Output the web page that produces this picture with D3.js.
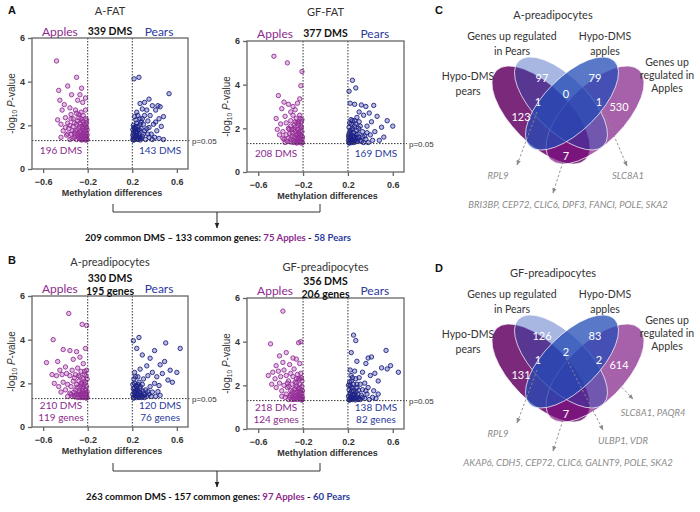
<!DOCTYPE html>
<html>
<head>
<meta charset="utf-8">
<script src="https://cdn.jsdelivr.net/npm/d3@7"></script>
<style>
  body { margin: 0; background: #fff; }
  svg { display: block; }
</style>
</head>
<body>
<svg id="fig" width="700" height="512"></svg>
<script>
// ---- data ----
const xTicks = [-0.6, -0.2, 0.2, 0.6];
const yTicks = [0, 2, 4, 6];
const foldCut = 0.2;
const pCut = -Math.log10(0.05);

const aFatApples = [[-0.48,4.95],[-0.30,4.2],[-0.255,3.7],[-0.38,3.8],[-0.46,3.6],[-0.45,3.15],[-0.345,3.4],[-0.29,3.15],[-0.41,2.95],[-0.245,3.05],[-0.36,2.8],[-0.31,2.7],[-0.43,2.7],[-0.27,3.4],[-0.22,3.25],
  [-0.47,2.25],[-0.44,2.05],[-0.40,2.35],[-0.38,2.1],[-0.35,2.5],[-0.33,2.3],[-0.30,2.55],[-0.28,2.35],[-0.26,2.6],[-0.24,2.45],[-0.22,2.7],[-0.21,2.25],[-0.42,1.75],[-0.39,1.55],[-0.37,1.85],[-0.35,1.6],[-0.33,1.95],[-0.32,1.45],[-0.31,1.75],[-0.30,2.05],[-0.29,1.55],[-0.28,1.85],[-0.27,1.4],[-0.27,2.1],[-0.26,1.65],[-0.25,1.95],[-0.25,1.45],[-0.24,1.75],[-0.24,2.15],[-0.23,1.35],[-0.23,1.6],[-0.23,1.9],[-0.22,1.5],[-0.22,1.75],[-0.22,2.0],[-0.21,1.4],[-0.21,1.65],[-0.21,1.9],[-0.205,1.35],[-0.205,1.55],[-0.205,1.8],[-0.26,1.35],[-0.28,1.6],[-0.30,1.35],[-0.34,1.4],[-0.36,1.35],[-0.32,1.65],[-0.26,2.3],[-0.29,2.2],[-0.36,2.0],[-0.40,1.9],[-0.25,1.55],[-0.27,1.7],[-0.235,1.45],[-0.215,1.5],[-0.245,1.35],
  [-0.215,1.32],[-0.225,1.42],[-0.235,1.68],[-0.245,1.88],[-0.255,1.33],[-0.265,1.52],[-0.275,1.95],[-0.285,1.45],[-0.295,1.8],[-0.31,1.55],[-0.32,2.1],[-0.34,1.75],[-0.38,1.6],[-0.21,2.1],[-0.22,2.3],[-0.23,2.05],[-0.25,2.2],[-0.28,2.5],[-0.44,1.45],[-0.35,2.3]];
const aFatPears = [[0.216,4.13],[0.26,4.2],[0.53,3.45],[0.27,3.0],[0.31,3.05],[0.35,3.2],[0.41,2.7],[0.43,2.9],[0.48,2.4],[0.45,2.85],[0.41,2.15],[0.38,2.9],[0.33,2.7],[0.29,2.75],[0.24,2.6],[0.36,2.45],[0.44,2.3],[0.39,2.05],[0.46,1.95],[0.34,2.2],[0.31,2.45],[0.27,2.3],[0.22,2.4],[0.42,1.75],[0.37,1.6],[0.40,1.45],[0.44,1.4],[0.33,1.85],[0.35,1.45],[0.30,2.05],[0.30,1.6],[0.28,1.85],[0.28,1.4],[0.27,2.05],[0.26,1.6],[0.25,1.35],[0.25,1.8],[0.24,2.1],[0.24,1.5],[0.23,1.7],[0.23,1.95],[0.22,1.35],[0.22,1.55],[0.22,1.85],[0.21,1.45],[0.21,1.65],[0.21,2.0],[0.205,1.35],[0.205,1.55],[0.205,1.8],[0.26,1.45],[0.29,1.5],[0.32,1.35],[0.31,1.75],[0.48,1.35],
  [0.212,1.32],[0.218,1.75],[0.225,1.45],[0.232,2.25],[0.238,1.62],[0.245,1.38],[0.252,1.95],[0.258,1.52],[0.265,1.78],[0.272,1.33],[0.28,2.15],[0.215,1.9],[0.228,1.85],[0.242,1.72],[0.268,1.42],[0.35,1.9],[0.38,1.35],[0.25,2.45],[0.29,2.3],[0.34,1.6]];
const gfFatApples = [[-0.46,5.3],[-0.34,5.0],[-0.21,4.6],[-0.22,3.95],[-0.42,3.5],[-0.37,3.2],[-0.33,3.1],[-0.29,3.0],[-0.25,3.15],[-0.23,3.35],[-0.39,2.9],[-0.31,2.75],[-0.27,2.85],[-0.44,2.45],[-0.40,2.2],[-0.36,2.55],[-0.35,2.25],[-0.33,2.0],[-0.31,2.35],[-0.29,2.6],[-0.28,2.15],[-0.26,2.45],[-0.25,1.95],[-0.24,2.3],[-0.23,2.6],[-0.22,2.1],[-0.21,2.4],[-0.43,1.95],[-0.41,1.7],[-0.38,1.85],[-0.37,1.5],[-0.35,1.7],[-0.34,1.4],[-0.32,1.75],[-0.31,1.5],[-0.30,1.95],[-0.29,1.35],[-0.28,1.6],[-0.27,1.85],[-0.27,1.4],[-0.26,1.7],[-0.25,1.5],[-0.24,1.35],[-0.24,1.8],[-0.23,1.55],[-0.23,2.0],[-0.22,1.4],[-0.22,1.7],[-0.21,1.5],[-0.21,1.85],[-0.205,1.35],[-0.205,1.6],[-0.215,2.05],[-0.26,1.35],[-0.30,1.65],[-0.33,1.55],[-0.36,1.35],[-0.245,1.6],[-0.235,1.75],[-0.28,1.95],
  [-0.212,1.32],[-0.218,1.62],[-0.225,1.88],[-0.232,1.42],[-0.238,2.2],[-0.245,1.45],[-0.252,1.72],[-0.258,1.33],[-0.265,1.55],[-0.272,2.05],[-0.285,1.45],[-0.295,1.8],[-0.315,1.38],[-0.325,1.95],[-0.215,2.3],[-0.228,2.45],[-0.255,2.25],[-0.31,2.1],[-0.38,1.55],[-0.27,2.3]];
const gfFatPears = [[0.24,4.2],[0.21,3.7],[0.27,3.85],[0.22,3.15],[0.26,3.1],[0.32,3.07],[0.36,3.0],[0.43,3.05],[0.30,2.75],[0.34,2.6],[0.39,2.7],[0.46,2.55],[0.55,2.35],[0.60,2.1],[0.50,2.05],[0.41,2.3],[0.37,2.1],[0.28,2.5],[0.24,2.35],[0.44,1.85],[0.52,1.6],[0.48,1.45],[0.40,1.7],[0.36,1.5],[0.33,1.85],[0.31,2.1],[0.30,1.6],[0.28,1.4],[0.28,1.9],[0.27,2.2],[0.26,1.6],[0.25,1.8],[0.25,1.35],[0.24,2.0],[0.24,1.5],[0.23,1.7],[0.23,2.2],[0.22,1.4],[0.22,1.6],[0.22,1.9],[0.21,1.35],[0.21,1.55],[0.21,1.75],[0.21,2.05],[0.205,1.45],[0.205,1.65],[0.26,1.45],[0.29,1.75],[0.32,1.4],[0.35,1.65],[0.23,1.45],[0.27,1.55],[0.24,1.65],[0.38,1.35],[0.42,1.45],
  [0.212,1.32],[0.218,1.82],[0.225,1.52],[0.232,1.35],[0.238,1.92],[0.245,1.42],[0.252,1.62],[0.258,2.1],[0.265,1.38],[0.272,1.72],[0.285,1.55],[0.295,2.0],[0.31,1.45],[0.33,1.62],[0.215,2.25],[0.228,2.4],[0.34,1.35],[0.37,1.8],[0.30,2.3],[0.26,2.35]];
const aPreApples = [[-0.37,5.2],[-0.25,4.7],[-0.21,4.65],[-0.51,4.0],[-0.42,3.55],[-0.36,3.5],[-0.30,3.45],[-0.22,3.6],[-0.57,2.95],[-0.24,2.9],[-0.47,3.0],[-0.33,3.1],[-0.27,3.2],[-0.40,2.75],[-0.52,2.4],[-0.48,2.35],[-0.45,2.6],[-0.43,2.4],[-0.39,2.45],[-0.36,2.35],[-0.34,2.6],[-0.31,2.4],[-0.29,2.7],[-0.28,2.35],[-0.26,2.55],[-0.23,2.4],[-0.21,2.6],[-0.50,2.0],[-0.46,1.85],[-0.42,2.05],[-0.40,1.7],[-0.38,1.95],[-0.36,1.55],[-0.35,1.85],[-0.33,2.1],[-0.32,1.45],[-0.31,1.7],[-0.30,1.95],[-0.29,1.35],[-0.28,1.6],[-0.28,2.1],[-0.27,1.85],[-0.26,1.45],[-0.26,2.0],[-0.25,1.65],[-0.24,1.4],[-0.24,1.85],[-0.24,2.2],[-0.23,1.55],[-0.23,1.95],[-0.22,1.35],[-0.22,1.7],[-0.22,2.05],[-0.21,1.45],[-0.21,1.85],[-0.205,1.35],[-0.205,1.6],[-0.205,2.2],[-0.25,1.35],[-0.30,1.5],[-0.34,1.4],[-0.38,1.4],[-0.27,1.5],[-0.245,1.55],[-0.215,1.55],
  [-0.212,1.32],[-0.218,1.72],[-0.225,1.48],[-0.232,2.1],[-0.238,1.35],[-0.245,1.75],[-0.252,1.5],[-0.258,1.92],[-0.265,1.35],[-0.272,1.65],[-0.285,1.48],[-0.295,1.82],[-0.315,1.38],[-0.325,1.6],[-0.215,2.35],[-0.228,2.55],[-0.27,2.3],[-0.35,1.5],[-0.44,1.6],[-0.32,2.25]];
const aPrePears = [[0.21,3.95],[0.26,4.1],[0.24,3.6],[0.50,3.85],[0.63,3.6],[0.40,3.5],[0.29,3.3],[0.36,3.15],[0.49,3.0],[0.60,2.5],[0.54,2.6],[0.45,2.85],[0.33,2.8],[0.27,2.65],[0.38,2.5],[0.42,2.3],[0.47,2.45],[0.52,2.15],[0.56,2.05],[0.22,2.5],[0.25,2.3],[0.30,2.2],[0.34,2.35],[0.40,2.0],[0.44,1.9],[0.36,1.85],[0.32,1.7],[0.29,1.95],[0.27,1.75],[0.26,2.05],[0.25,1.5],[0.24,1.85],[0.23,1.4],[0.23,1.65],[0.22,2.0],[0.22,1.55],[0.21,1.35],[0.21,1.75],[0.205,1.5],[0.205,1.95],[0.28,1.45],[0.30,1.55],[0.33,1.4],[0.35,1.5],[0.38,1.6],[0.41,1.4],[0.45,1.45],[0.26,1.35],[0.24,1.6],[0.22,1.8],[0.31,1.35],[0.27,1.55],
  [0.212,1.32],[0.218,1.62],[0.225,1.42],[0.232,1.9],[0.238,1.35],[0.245,1.72],[0.252,1.45],[0.258,1.62],[0.265,1.38],[0.272,1.85],[0.285,1.35],[0.295,1.65],[0.31,1.48],[0.215,2.2],[0.228,2.3],[0.29,1.4],[0.34,1.62],[0.25,1.95],[0.37,1.4],[0.43,1.62]];
const gfPreApples = [[-0.38,5.4],[-0.49,3.9],[-0.24,3.95],[-0.22,4.0],[-0.41,3.35],[-0.35,3.5],[-0.29,3.25],[-0.26,3.2],[-0.38,3.05],[-0.44,2.9],[-0.32,2.95],[-0.23,3.0],[-0.51,2.45],[-0.47,2.6],[-0.45,2.3],[-0.42,2.65],[-0.40,2.4],[-0.37,2.7],[-0.35,2.45],[-0.33,2.2],[-0.31,2.55],[-0.29,2.4],[-0.28,2.75],[-0.27,2.15],[-0.25,2.5],[-0.24,2.3],[-0.22,2.55],[-0.21,2.2],[-0.48,2.05],[-0.44,1.9],[-0.41,2.1],[-0.39,1.75],[-0.37,2.0],[-0.35,1.6],[-0.34,1.9],[-0.32,1.45],[-0.31,1.75],[-0.30,2.05],[-0.29,1.5],[-0.28,1.8],[-0.27,1.4],[-0.26,1.65],[-0.26,1.95],[-0.25,1.35],[-0.24,1.55],[-0.24,1.85],[-0.23,1.4],[-0.23,1.7],[-0.23,2.05],[-0.22,1.5],[-0.22,1.8],[-0.21,1.35],[-0.21,1.6],[-0.21,1.95],[-0.205,1.45],[-0.205,1.75],[-0.28,1.35],[-0.30,1.6],[-0.33,1.35],[-0.36,1.45],[-0.25,1.6],[-0.235,1.5],[-0.215,1.4],
  [-0.212,1.32],[-0.218,1.68],[-0.225,1.38],[-0.232,1.88],[-0.238,1.45],[-0.245,1.72],[-0.252,1.42],[-0.258,2.1],[-0.265,1.52],[-0.272,1.85],[-0.285,1.42],[-0.295,1.7],[-0.315,1.55],[-0.325,1.95],[-0.215,2.35],[-0.228,2.3],[-0.26,2.3],[-0.30,1.35],[-0.39,1.5],[-0.34,2.1]];
const gfPrePears = [[0.25,4.3],[0.27,4.05],[0.54,3.6],[0.65,2.6],[0.38,3.25],[0.41,3.3],[0.36,3.0],[0.50,2.8],[0.55,2.75],[0.58,2.9],[0.23,3.5],[0.28,3.1],[0.44,2.55],[0.47,2.2],[0.40,2.45],[0.33,2.6],[0.30,2.35],[0.26,2.65],[0.22,2.7],[0.35,2.1],[0.38,1.9],[0.43,1.75],[0.47,1.6],[0.42,1.45],[0.33,1.8],[0.31,2.05],[0.29,1.6],[0.28,1.9],[0.27,2.3],[0.26,1.45],[0.25,1.75],[0.25,2.05],[0.24,1.35],[0.24,1.55],[0.23,1.9],[0.23,2.2],[0.22,1.45],[0.22,1.65],[0.21,1.35],[0.21,1.8],[0.205,1.5],[0.205,2.0],[0.30,1.4],[0.32,1.55],[0.35,1.4],[0.37,1.6],[0.27,1.4],[0.26,1.6],[0.23,1.4],[0.22,2.0],[0.39,1.35],[0.29,1.35],
  [0.212,1.32],[0.218,1.58],[0.225,1.35],[0.232,1.72],[0.238,1.42],[0.245,1.88],[0.252,1.38],[0.258,1.55],[0.265,1.33],[0.272,1.68],[0.285,1.45],[0.295,1.78],[0.31,1.35],[0.215,2.15],[0.228,2.45],[0.33,1.45],[0.36,1.75],[0.28,2.05],[0.45,1.4],[0.24,2.35]];

const volcanoTitles = ['A-FAT', 'GF-FAT', 'A-preadipocytes', 'GF-preadipocytes'];
const totalDms = ['339 DMS', '377 DMS', '330 DMS', '356 DMS'];
const totalGenes = [null, null, '195 genes', '206 genes'];
const appleCounts = [['196 DMS'], ['208 DMS'], ['210 DMS', '119 genes'], ['218 DMS', '124 genes']];
const pearCounts = [['143 DMS'], ['169 DMS'], ['120 DMS', '76 genes'], ['138 DMS', '82 genes']];

const summaryA = ['209 common DMS \u2013 133 common genes: ', '75 Apples', ' - ', '58 Pears'];
const summaryB = ['263 common DMS - 157 common genes: ', '97 Apples', ' - ', '60 Pears'];

const vennSets = [['Hypo-DMS', 'pears'], ['Genes up regulated', 'in Pears'], ['Hypo-DMS', 'apples'], ['Genes up', 'regulated in', 'Apples']];
// region order: only2, only3, 2&3, 1&2, 3&4, only1, only4, 1&4
const vennC = [97, 79, 0, 1, 1, 123, 530, 7];
const vennD = [126, 83, 2, 1, 2, 131, 614, 7];
const genesC = [['RPL9', 'l'], ['SLC8A1', 'r'], ['BRI3BP, CEP72, CLIC6, DPF3, FANCI, POLE, SKA2', 'b']];
const genesD = [['RPL9', 'l'], ['ULBP1, VDR', 'm'], ['SLC8A1, PAQR4', 'r2'], ['AKAP6, CDH5, CEP72, CLIC6, GALNT9, POLE, SKA2', 'b']];

// ---- layout / style ----
const APPLE = '#8c2a8e', PEAR = '#2b3a9b', APPLE_PT = '#962f99', PEAR_PT = '#1d2287';
const LABEL_FONT = 'Lato, "Open Sans", sans-serif';
const AXIS_FONT = '"Liberation Sans", Arial, sans-serif';

const svg = d3.select('#fig');
svg.append('rect').attr('width', 700).attr('height', 512).attr('fill', '#fff');

const defs = svg.append('defs');
defs.append('marker').attr('id', 'arrBlack').attr('viewBox', '0 0 10 10')
  .attr('refX', 9).attr('refY', 5).attr('markerWidth', 6).attr('markerHeight', 6).attr('orient', 'auto')
  .append('path').attr('d', 'M0,1L10,5L0,9Z').attr('fill', '#222');
defs.append('marker').attr('id', 'arrGray').attr('viewBox', '0 0 10 10')
  .attr('refX', 9).attr('refY', 5).attr('markerWidth', 6).attr('markerHeight', 6).attr('orient', 'auto')
  .append('path').attr('d', 'M0,1L10,5L0,9Z').attr('fill', '#8a8a8a');

const frames = [
  { l: 32, r: 188, t: 38, b: 169, titleY: 15, headY: 36, dmsY: 35, cntY: 154, pLabX: 192 },
  { l: 247, r: 404, t: 41, b: 172, titleY: 16, headY: 38, dmsY: 37, cntY: 157, pLabX: 409 },
  { l: 32, r: 188, t: 296, b: 427, titleY: 266, headY: 293, dmsY: 282, cntY: 409, pLabX: 192 },
  { l: 247, r: 404, t: 298, b: 429, titleY: 271, headY: 295, dmsY: 285, cntY: 411, pLabX: 409 },
];
const series = [[aFatApples, aFatPears], [gfFatApples, gfFatPears], [aPreApples, aPrePears], [gfPreApples, gfPrePears]];

function drawVolcano(i) {
  const f = frames[i];
  const g = svg.append('g');
  const x = d3.scaleLinear().domain([-0.7, 0.7]).range([f.l, f.r]);
  const y = d3.scaleLinear().domain([0, 6]).range([f.b, f.t]);
  const mid = (x(-0.2) + x(0.2)) / 2;

  // points
  const [apples, pears] = series[i];
  g.append('g').selectAll('circle').data(apples).join('circle')
    .attr('cx', d => x(d[0])).attr('cy', d => y(d[1])).attr('r', 2.2)
    .attr('fill', APPLE_PT).attr('fill-opacity', 0.3).attr('stroke', APPLE_PT).attr('stroke-width', 0.9);
  g.append('g').selectAll('circle').data(pears).join('circle')
    .attr('cx', d => x(d[0])).attr('cy', d => y(d[1])).attr('r', 2.2)
    .attr('fill', PEAR_PT).attr('fill-opacity', 0.3).attr('stroke', PEAR_PT).attr('stroke-width', 0.9);

  // thresholds
  [-foldCut, foldCut].forEach(v => {
    g.append('line').attr('x1', x(v)).attr('x2', x(v)).attr('y1', f.t).attr('y2', f.b)
      .attr('stroke', '#333').attr('stroke-width', 1).attr('stroke-dasharray', '1.5,1.5');
  });
  g.append('line').attr('x1', f.l).attr('x2', f.pLabX - 2).attr('y1', y(pCut)).attr('y2', y(pCut))
    .attr('stroke', '#333').attr('stroke-width', 1).attr('stroke-dasharray', '1.5,1.5');
  g.append('text').attr('x', f.pLabX).attr('y', y(pCut) + 3).attr('font-family', AXIS_FONT)
    .attr('font-size', 8).attr('fill', '#333').text('p=0.05');

  // box + axes
  g.append('rect').attr('x', f.l).attr('y', f.t).attr('width', f.r - f.l).attr('height', f.b - f.t)
    .attr('fill', 'none').attr('stroke', '#666').attr('stroke-width', 1.3);
  const ax = g.append('g').attr('transform', `translate(0,${f.b})`)
    .call(d3.axisBottom(x).tickValues(xTicks).tickSize(4).tickFormat(d3.format('.1f')));
  const ay = g.append('g').attr('transform', `translate(${f.l},0)`)
    .call(d3.axisLeft(y).tickValues(yTicks).tickSize(4).tickFormat(d3.format('d')));
  [ax, ay].forEach(a => {
    a.select('.domain').remove();
    a.selectAll('line').attr('stroke', '#666').attr('stroke-width', 1.3);
    a.selectAll('text').attr('font-family', AXIS_FONT).attr('font-size', 9).attr('font-weight', 'bold').attr('fill', '#333');
  });
  ax.selectAll('text').attr('dy', '1.05em');

  g.append('text').attr('x', (f.l + f.r) / 2 + 2).attr('y', f.b + 27).attr('text-anchor', 'middle')
    .attr('font-family', AXIS_FONT).attr('font-size', 9).attr('font-weight', 'bold').attr('fill', '#333')
    .text('Methylation differences');
  const yl = g.append('text').attr('transform', `translate(${f.l - 17},${(f.t + f.b) / 2}) rotate(-90)`)
    .attr('text-anchor', 'middle').attr('font-family', AXIS_FONT).attr('font-size', 10).attr('fill', '#333');
  yl.append('tspan').text('-log');
  yl.append('tspan').attr('font-size', 6.5).attr('dy', 2).text('10');
  yl.append('tspan').attr('dy', -2).text(' ');
  yl.append('tspan').attr('font-style', 'italic').text('P');
  yl.append('tspan').text('-value');

  // headers
  g.append('text').attr('x', mid).attr('y', f.titleY).attr('text-anchor', 'middle')
    .attr('font-family', LABEL_FONT).attr('font-size', 11).attr('fill', '#333').text(volcanoTitles[i]);
  g.append('text').attr('x', mid).attr('y', f.dmsY).attr('text-anchor', 'middle')
    .attr('font-family', LABEL_FONT).attr('font-size', 10.5).attr('font-weight', 'bold').attr('fill', '#111').text(totalDms[i]);
  if (totalGenes[i]) {
    g.append('text').attr('x', mid).attr('y', f.dmsY + 13).attr('text-anchor', 'middle')
      .attr('font-family', LABEL_FONT).attr('font-size', 10.5).attr('font-weight', 'bold').attr('fill', '#111').text(totalGenes[i]);
  }
  g.append('text').attr('x', x(-0.45)).attr('y', f.headY).attr('text-anchor', 'middle')
    .attr('font-family', LABEL_FONT).attr('font-size', 12).attr('fill', APPLE).text('Apples');
  g.append('text').attr('x', x(0.44)).attr('y', f.headY).attr('text-anchor', 'middle')
    .attr('font-family', LABEL_FONT).attr('font-size', 12).attr('fill', PEAR).text('Pears');

  appleCounts[i].forEach((t, k) => {
    g.append('text').attr('x', x(-0.44)).attr('y', f.cntY + k * 12).attr('text-anchor', 'middle')
      .attr('font-family', LABEL_FONT).attr('font-size', 10).attr('fill', APPLE).text(t);
  });
  pearCounts[i].forEach((t, k) => {
    g.append('text').attr('x', x(0.45)).attr('y', f.cntY + k * 12).attr('text-anchor', 'middle')
      .attr('font-family', LABEL_FONT).attr('font-size', 10).attr('fill', PEAR).text(t);
  });
}
[0, 1, 2, 3].forEach(drawVolcano);

// brackets + summaries
function drawSummary(top, parts) {
  const g = svg.append('g');
  g.append('path').attr('d', `M113,${top}V${top + 8}H320V${top}`).attr('fill', 'none').attr('stroke', '#333').attr('stroke-width', 1);
  g.append('line').attr('x1', 217).attr('x2', 217).attr('y1', top + 8).attr('y2', top + 24)
    .attr('stroke', '#222').attr('stroke-width', 1).attr('marker-end', 'url(#arrBlack)');
  const t = g.append('text').attr('x', 218).attr('y', top + 37).attr('text-anchor', 'middle')
    .attr('font-family', LABEL_FONT).attr('font-size', 9.6).attr('font-weight', 'bold');
  const cols = ['#111', APPLE, '#111', PEAR];
  parts.forEach((p, k) => t.append('tspan').attr('fill', cols[k]).text(p));
}
drawSummary(204, summaryA);
drawSummary(463, summaryB);

// panel letters
[['A', 8, 14], ['B', 8, 264], ['C', 435, 14], ['D', 435, 272]].forEach(([l, px, py]) => {
  svg.append('text').attr('x', px).attr('y', py).attr('font-family', AXIS_FONT).attr('font-size', 11)
    .attr('font-weight', 'bold').attr('fill', '#111').text(l);
});

// ---- venn ----
const ellipses = [
  { cx: 541, cy: 115, a: 63, b: 29, rot: 45, fill: 'rgb(100,5,100)', op: 0.85 },
  { cx: 595, cy: 115, a: 63, b: 29, rot: -45, fill: 'rgb(120,10,125)', op: 0.65 },
  { cx: 561, cy: 103.5, a: 60, b: 27, rot: 45, fill: 'rgb(35,75,182)', op: 0.4 },
  { cx: 572, cy: 103.5, a: 60, b: 27, rot: -45, fill: 'rgb(35,75,182)', op: 0.75 },
];
const regionPos = [[542, 78], [595, 78], [566, 94], [538, 102], [599, 102], [521, 117], [619, 107], [566, 156]];
const setLabelPos = [[468, 76], [512, 36], [605, 36], [667, 62]];
const genePos = {
  l: { from: [537, 112], to: [517, 165], text: [498, 179] },
  r: { from: [603, 110], to: [627, 166], text: [628, 179] },
  b: { from: [563, 162], to: [553, 193], text: [568, 208] },
  m: { from: [566, 100], to: [603, 172], text: [623, 186] },
  r2: { from: [603, 110], to: [633, 141], text: [653, 158] },
};

function drawVenn(dy, title, counts, genes) {
  const g = svg.append('g').attr('transform', `translate(0,${dy})`);
  g.append('text').attr('x', 553).attr('y', 19).attr('text-anchor', 'middle').attr('font-family', LABEL_FONT)
    .attr('font-size', 11).attr('fill', '#333').text(title);
  ellipses.forEach(e => {
    g.append('ellipse').attr('transform', `translate(${e.cx},${e.cy}) rotate(${e.rot})`)
      .attr('rx', e.a).attr('ry', e.b).attr('fill', e.fill).attr('fill-opacity', e.op)
      .attr('stroke', '#fff').attr('stroke-opacity', 0.75).attr('stroke-width', 0.9);
  });
  vennSets.forEach((lines, k) => {
    const [lx, ly] = setLabelPos[k];
    lines.forEach((ln, j) => {
      g.append('text').attr('x', lx).attr('y', ly + j * (k === 3 ? 13 : 14.5) + 4).attr('text-anchor', 'middle')
        .attr('font-family', LABEL_FONT).attr('font-size', 10.5).attr('fill', '#333').text(ln);
    });
  });
  counts.forEach((c, k) => {
    g.append('text').attr('x', regionPos[k][0]).attr('y', regionPos[k][1] + 4).attr('text-anchor', 'middle')
      .attr('font-family', LABEL_FONT).attr('font-size', 11).attr('fill', '#fff').text(c);
  });
  genes.forEach(([txt, key]) => {
    const p = genePos[key];
    g.append('line').attr('x1', p.from[0]).attr('y1', p.from[1]).attr('x2', p.to[0]).attr('y2', p.to[1])
      .attr('stroke', '#8a8a8a').attr('stroke-width', 0.9).attr('stroke-dasharray', '2.5,2')
      .attr('marker-end', 'url(#arrGray)');
    g.append('text').attr('x', p.text[0]).attr('y', p.text[1]).attr('text-anchor', 'middle')
      .attr('font-family', LABEL_FONT).attr('font-size', 9.5).attr('font-style', 'italic').attr('fill', '#8a8a8a').text(txt);
  });
}
drawVenn(0, 'A-preadipocytes', vennC, genesC);
drawVenn(258, 'GF-preadipocytes', vennD, genesD);
</script>
</body>
</html>
